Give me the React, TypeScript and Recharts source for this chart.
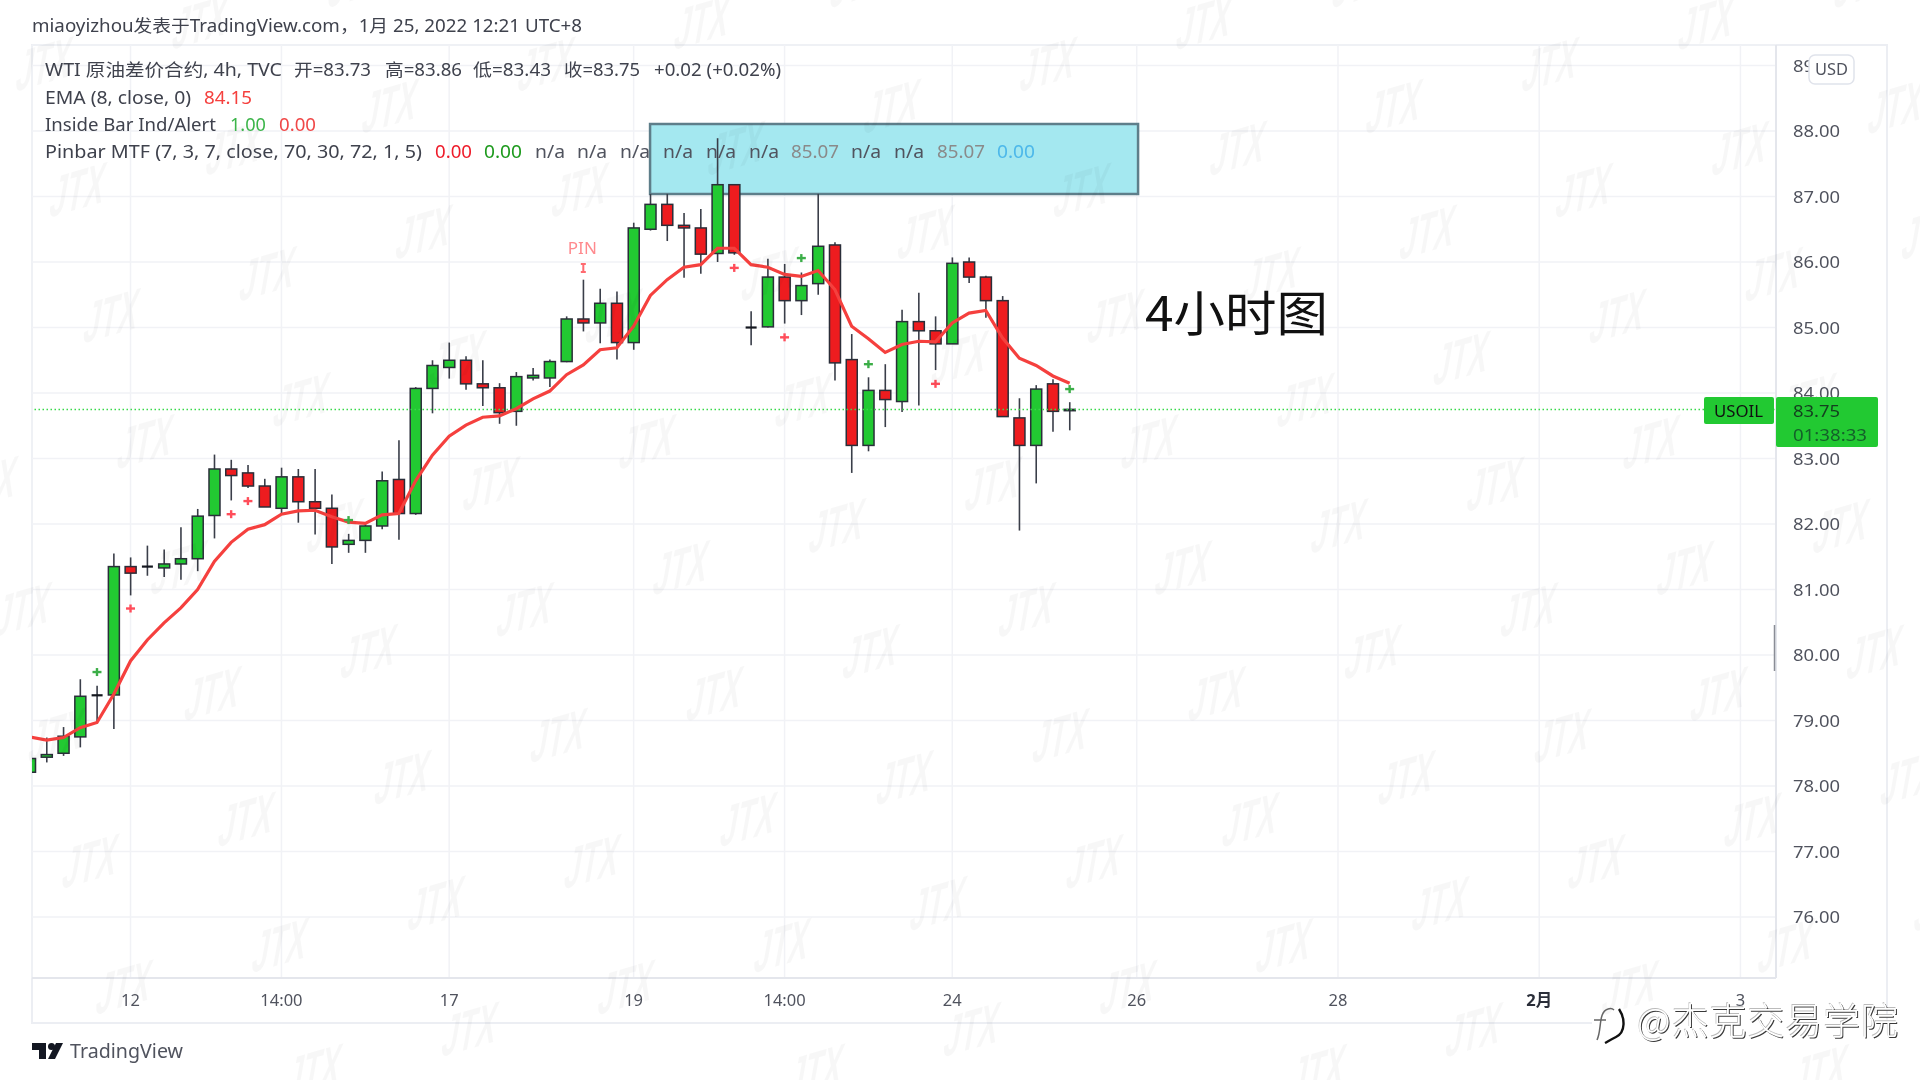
import React from "react";
import { ComposedChart, Bar, Line, XAxis, YAxis, CartesianGrid, ReferenceArea, ReferenceLine } from "recharts";

const opens = [78.21,78.44,78.50,78.75,79.385,79.39,81.35,81.35,81.33,81.39,81.47,82.13,82.84,82.78,82.58,82.24,82.72,82.34,82.24,81.69,81.75,81.97,82.68,82.16,84.07,84.39,84.50,84.14,84.08,83.72,84.23,84.23,84.48,85.13,85.07,85.37,84.77,86.50,86.88,86.56,86.52,86.13,87.18,85.0,85.01,85.77,85.41,85.67,86.26,84.51,83.20,84.04,83.87,85.09,84.95,84.75,86.0,85.77,85.41,83.62,83.20,84.14,83.73];
const closes = [78.42,78.48,78.76,79.37,79.385,81.35,81.25,81.35,81.39,81.47,82.12,82.84,82.74,82.58,82.26,82.72,82.34,82.24,81.65,81.75,81.97,82.66,82.16,84.07,84.42,84.50,84.14,84.08,83.70,84.25,84.27,84.48,85.13,85.07,85.37,84.77,86.52,86.88,86.56,86.52,86.12,87.18,86.14,85.0,85.77,85.41,85.64,86.24,84.46,83.20,84.04,83.90,85.09,84.95,84.75,85.98,85.77,85.41,83.64,83.20,84.06,83.72,83.75];
const highs = [78.45,78.74,78.90,79.63,79.53,81.55,81.49,81.67,81.61,81.95,82.23,83.06,82.98,82.90,82.69,82.86,82.84,82.84,82.45,81.85,82.0,82.80,83.28,84.09,84.50,84.77,84.56,84.50,84.15,84.32,84.38,84.51,85.17,85.73,85.59,85.55,86.60,87.04,87.04,86.75,86.81,87.89,87.18,85.25,86.05,85.97,85.84,87.04,86.30,84.90,84.24,84.44,85.27,85.53,85.17,86.07,86.07,85.79,85.48,83.92,84.12,84.21,83.86];
const lows = [78.20,78.36,78.46,78.59,78.96,78.87,80.91,81.21,81.19,81.15,81.28,81.78,82.36,82.55,82.26,82.14,82.02,81.84,81.39,81.56,81.56,81.92,81.76,82.14,83.69,84.22,84.05,83.80,83.53,83.50,84.19,84.09,84.47,84.94,84.76,84.51,84.66,86.48,86.32,85.76,85.82,86.0,86.11,84.73,85.0,85.06,85.19,85.50,84.19,82.78,83.11,83.48,83.71,83.81,84.35,84.75,85.68,85.15,83.64,81.90,82.62,83.41,83.43];
const emaValues = [78.75,78.70,78.74,78.89,78.97,79.40,79.91,80.23,80.49,80.72,81.0,81.43,81.72,81.92,81.99,82.15,82.20,82.21,82.11,82.03,82.01,82.14,82.16,82.66,83.05,83.34,83.51,83.63,83.65,83.76,83.91,84.03,84.28,84.43,84.66,84.69,85.02,85.49,85.73,85.92,85.96,86.21,86.21,85.96,85.92,85.81,85.78,85.87,85.58,85.02,84.83,84.62,84.74,84.79,84.78,85.07,85.22,85.26,84.84,84.53,84.42,84.26,84.15];
const greenMarkIndex = [4,19,46,50,62];
const greenMarkValue = [79.74,82.06,86.06,84.44,84.06];
const redMarkIndex = [6,12,13,42,45,54];
const redMarkValue = [80.71,82.15,82.35,85.91,84.85,84.14];
const pinIndex = [33];
const pinValue = [85.91];
const lastPrice = 83.75;
const priceTicks = [76,77,78,79,80,81,82,83,84,85,86,87,88,89];
const timeTickIndex = [6,15,25,36,45,55,66,78,90,102];
const timeTickLabel = ["12","14:00","17","19","14:00","24","26","28","2月","3"];

const rows = opens.map((o, i) => ({
  i,
  open: o,
  close: closes[i],
  high: highs[i],
  low: lows[i],
  range: [lows[i], highs[i]],
  ema: emaValues[i],
  gm: greenMarkIndex.includes(i) ? greenMarkValue[greenMarkIndex.indexOf(i)] : null,
  rm: redMarkIndex.includes(i) ? redMarkValue[redMarkIndex.indexOf(i)] : null,
  pin: pinIndex.includes(i) ? pinValue[pinIndex.indexOf(i)] : null,
}));

const FONT = "'Noto Sans','Noto Sans CJK SC',sans-serif";
const CJK = "'Noto Sans CJK SC','Noto Sans',sans-serif";
const UP = "#22c932";
const DOWN = "#ee1c1f";
const EDGE = "#2a2e39";

const Candle = (p: any) => {
  const { x, y, width, height, payload } = p;
  if (height == null || !payload) return <g />;
  const ppu = height / (payload.high - payload.low);
  const cx = x + width / 2;
  const top = y + (payload.high - Math.max(payload.open, payload.close)) * ppu;
  const bot = y + (payload.high - Math.min(payload.open, payload.close)) * ppu;
  const up = payload.close >= payload.open;
  const doji = bot - top < 1;
  return (
    <g>
      <line x1={cx} x2={cx} y1={y} y2={y + height} stroke="#3a3e49" strokeWidth={1.6} />
      {doji ? (
        <line x1={x} x2={x + width} y1={top} y2={top} stroke="#14171f" strokeWidth={2.2} />
      ) : (
        <rect x={x} y={top} width={width} height={bot - top} fill={up ? UP : DOWN} stroke={EDGE} strokeWidth={1.5} />
      )}
    </g>
  );
};

const plusDot = (color: string) => (p: any) => {
  const { cx, cy, index, value } = p;
  if (value == null || cy == null || Number.isNaN(cy)) return <g key={index} />;
  return (
    <g key={index} stroke={color} strokeWidth={2.4}>
      <line x1={cx - 4.5} x2={cx + 4.5} y1={cy} y2={cy} />
      <line x1={cx} x2={cx} y1={cy - 4} y2={cy + 4} />
    </g>
  );
};

const pinDot = (p: any) => {
  const { cx, cy, index, value } = p;
  if (value == null || cy == null || Number.isNaN(cy)) return <g key={index} />;
  return (
    <g key={index}>
      <path d={`M${cx - 2.5} ${cy - 4}H${cx + 2.5}M${cx} ${cy - 4}V${cy + 4}M${cx - 2.5} ${cy + 4}H${cx + 2.5}`} stroke="#ff6a70" strokeWidth={2} fill="none" />
      <text x={cx - 1} y={cy - 14} textAnchor="middle" fontFamily={FONT} fontSize={17} fill="#ff8a8e">PIN</text>
    </g>
  );
};

const PriceTick = (p: any) => {
  const { x, y, payload } = p;
  return (
    <text x={x} y={y + 6} fontFamily={FONT} fontSize={17} fill="#50535e" textLength={47} lengthAdjust="spacingAndGlyphs">
      {payload.value.toFixed(2)}
    </text>
  );
};

const TimeTick = (p: any) => {
  const { x, y, payload } = p;
  const idx = timeTickIndex.indexOf(payload.value);
  const label = timeTickLabel[idx];
  const isMonth = label === "2月";
  return (
    <text x={x} y={y + 20} textAnchor="middle" fontFamily={FONT} fontSize={16.5} fontWeight={isMonth ? 700 : 400} fill={isMonth ? "#2a2e39" : "#50535e"}>
      {label}
    </text>
  );
};

const T = ({ x, y, w, fill = "#3c3f4a", size = 17.5, family = FONT, children }: any) => (
  <text x={x} y={y} fontFamily={family} fontSize={size} fill={fill} textLength={w} lengthAdjust="spacingAndGlyphs">
    {children}
  </text>
);

const legendLines: any[] = [
  [32, [["miaoyizhou发表于TradingView.com，1月 25, 2022 12:21 UTC+8", 32, 550, "#3f424d"]]],
  [76, [["WTI 原油差价合约, 4h, TVC", 45, 237, "#3f424d"], ["开=83.73", 294, 77, "#3f424d"], ["高=83.86", 385, 77, "#3f424d"], ["低=83.43", 473, 78, "#3f424d"], ["收=83.75", 564, 76, "#3f424d"], ["+0.02 (+0.02%)", 654, 127, "#3f424d"]]],
  [104, [["EMA (8, close, 0)", 45, 146, "#3f424d"], ["84.15", 204, 48, "#f5403e"]]],
  [131, [["Inside Bar Ind/Alert", 45, 171, "#3f424d"], ["1.00", 230, 36, "#3cb54a"], ["0.00", 279, 37, "#f04848"]]],
  [158, [["Pinbar MTF (7, 3, 7, close, 70, 30, 72, 1, 5)", 45, 377, "#3f424d"], ["0.00", 435, 37, "#ee1c2a"], ["0.00", 484, 38, "#1d9a1d"], ["n/a", 535, 30, "#50535e"], ["n/a", 577, 30, "#50535e"], ["n/a", 620, 30, "#50535e"], ["n/a", 663, 30, "#50535e"], ["n/a", 706, 30, "#50535e"], ["n/a", 749, 30, "#50535e"], ["85.07", 791, 48, "#8a8a8a"], ["n/a", 851, 30, "#50535e"], ["n/a", 894, 30, "#50535e"], ["85.07", 937, 48, "#8a8a8a"], ["0.00", 997, 38, "#4db8ea"]]],
];

const Watermarks = () => {
  const out: any[] = [];
  for (let a = -12; a <= 16; a++) {
    for (let b = -4; b <= 10; b++) {
      const x = 112 + a * 156.1 + b * 33.7;
      const y = 315 - a * 41.9 + b * 125.9;
      if (x < -60 || x > 1980 || y < -40 || y > 1120) continue;
      out.push(
        <text
          key={`${a}_${b}`}
          transform={`translate(${x} ${y}) rotate(-16) skewX(-26) scale(0.98 1.75)`}
          textAnchor="middle"
          y={11}
          fontFamily="'Liberation Sans',sans-serif"
          fontWeight={700}
          fontSize={31}
          fill="rgba(0,0,0,0.032)"
        >
          JTX
        </text>
      );
    }
  }
  return <g>{out}</g>;
};

export default function App() {
  return (
    <div style={{ position: "absolute", left: 0, top: 0, width: 1920, height: 1080, background: "#fff", overflow: "hidden", filter: "blur(0.4px)" }}>
      <div style={{ position: "absolute", left: 31, top: 44, width: 1853, height: 976, border: "2px solid #eceef3" }} />
      <div style={{ position: "absolute", left: 0, top: 0 }}>
        <ComposedChart width={1920} height={1080} data={rows} margin={{ top: 45, left: 32, right: 33, bottom: 58 }}>
          <CartesianGrid stroke="#f1f2f6" strokeWidth={1.5} />
          <XAxis
            dataKey="i"
            type="number"
            domain={[0.125, 104.12]}
            allowDataOverflow
            ticks={timeTickIndex}
            interval={0}
            height={44}
            tickLine={false}
            axisLine={{ stroke: "#e4e6ec", strokeWidth: 2 }}
            tick={TimeTick}
          />
          <YAxis
            orientation="right"
            type="number"
            domain={[75.069, 89.313]}
            allowDataOverflow
            ticks={priceTicks}
            interval={0}
            width={111}
            tickLine={false}
            tickMargin={11}
            axisLine={{ stroke: "#e4e6ec", strokeWidth: 2 }}
            tick={PriceTick}
          />
          <ReferenceArea x1={36.98} x2={66.08} y1={87.04} y2={88.107} fill="#a4e8f0" fillOpacity={1} stroke="#5e7e8a" strokeWidth={2.5} ifOverflow="visible" />
          <ReferenceLine y={lastPrice} stroke="#38d94a" strokeWidth={1.5} strokeDasharray="1.5 2.5" />
          <Bar dataKey="range" barSize={11} shape={Candle} isAnimationActive={false} />
          <Line dataKey="ema" stroke="#f5403e" strokeWidth={3.2} dot={false} activeDot={false} isAnimationActive={false} />
          <Line dataKey="gm" stroke="none" dot={plusDot("#3cae48")} activeDot={false} isAnimationActive={false} />
          <Line dataKey="rm" stroke="none" dot={plusDot("#ff4d5a")} activeDot={false} isAnimationActive={false} />
          <Line dataKey="pin" stroke="none" dot={pinDot} activeDot={false} isAnimationActive={false} />
        </ComposedChart>
      </div>
      <svg width={1920} height={1080} style={{ position: "absolute", left: 0, top: 0, pointerEvents: "none" }}>
        <Watermarks />
        {legendLines.map(([y, segs]: any, r: number) =>
          segs.map((s: any, k: number) => (
            <T key={`${r}_${k}`} x={s[1]} y={y} w={s[2]} fill={s[3]}>{s[0]}</T>
          ))
        )}
        <T x={1145} y={331} w={183} fill="#111" size={48} family={CJK}>4小时图</T>

        <rect x={1809} y={55} width={45} height={29} rx={6} fill="#fff" stroke="#e0e3eb" strokeWidth={1.5} />
        <T x={1815} y={75} w={33} fill="#50535e" size={17}>USD</T>

        <rect x={1704} y={397} width={70} height={27} rx={2} fill={UP} />
        <T x={1714} y={417} w={49} fill="#111" size={17}>USOIL</T>
        <rect x={1776} y={397} width={102} height={50} rx={2} fill={UP} />
        <T x={1793} y={417} w={47} fill="#14401f" size={17}>83.75</T>
        <T x={1793} y={441} w={74} fill="#14602a" size={17}>01:38:33</T>

        <line x1={1774.5} x2={1774.5} y1={625} y2={671} stroke="#8a8d96" strokeWidth={1.5} />

        <g fill="#131722">
          <path d="M32 1043H46V1059H39V1050H32Z" />
          <circle cx={51.5} cy={1046.5} r={3.5} />
          <path d="M56 1043H63L55 1059H48Z" />
        </g>
        <T x={70} y={1058} w={113} fill="#50535e" size={19}>TradingView</T>

        <g fill="#fff" stroke="#fff" strokeWidth={5}>
          <path d="M1592 1022H1900" />
        </g>
        <path d="M1597 1040C1602 1030 1598 1012 1608 1009C1611 1008 1613 1009 1614 1010M1594 1020H1606" fill="none" stroke="#666" strokeWidth={1.5} />
        <path d="M1619 1009C1625 1018 1626 1032 1616 1037C1610 1040 1607 1042 1605 1043" fill="none" stroke="#111" strokeWidth={2.4} />
        <text
          x={1637}
          y={1035}
          fontFamily={CJK}
          fontSize={37}
          fontWeight={300}
          textLength={261}
          fill="#ffffff"
          stroke="none"
          style={{ textShadow: "1px 1px 0 #3a3a3a, -0.6px -0.6px 0 #bbbbbb" } as any}
        >
          @杰克交易学院
        </text>
      </svg>
    </div>
  );
}
